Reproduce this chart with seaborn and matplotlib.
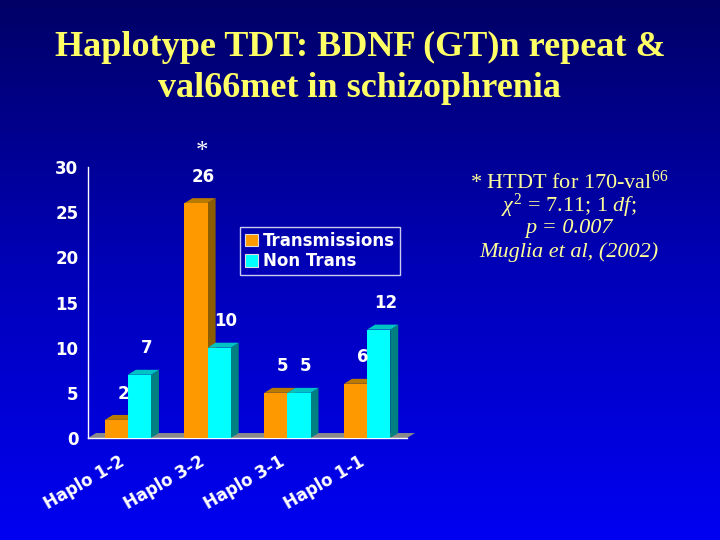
import numpy as np
import pandas as pd
import matplotlib
matplotlib.use("Agg")
import matplotlib.pyplot as plt
import matplotlib.transforms as mtransforms
import seaborn as sns
from matplotlib.patches import Polygon, Patch
from matplotlib.colors import LinearSegmentedColormap

# 데이터
haplos = ["Haplo 1-2", "Haplo 3-2", "Haplo 3-1", "Haplo 1-1"]
trans = [2, 26, 5, 6]
non_trans = [7, 10, 5, 12]
series = ["Transmissions", "Non Trans"]

df = pd.DataFrame({
    "haplo": haplos * 2,
    "count": trans + non_trans,
    "type": [series[0]] * len(haplos) + [series[1]] * len(haplos),
})

front = {"Transmissions": "#ff9900", "Non Trans": "#00ffff"}
side = {"Transmissions": "#8c5c00", "Non Trans": "#008080"}
top = {"Transmissions": "#b87a00", "Non Trans": "#00c4c4"}

sns.set_theme(style="white")
plt.rcParams["font.family"] = ["DejaVu Sans"]
plt.rcParams["mathtext.fontset"] = "custom"
plt.rcParams["mathtext.rm"] = "Liberation Serif"
plt.rcParams["mathtext.it"] = "Liberation Serif:italic"
plt.rcParams["mathtext.bf"] = "Liberation Serif:bold"

fig = plt.figure(figsize=(7.2, 5.4), dpi=100)

# 배경 그라데이션
bg = fig.add_axes([0, 0, 1, 1], zorder=-10)
grad = np.linspace(0, 1, 256).reshape(-1, 1)
cmap = LinearSegmentedColormap.from_list("bg", ["#000066", "#0000b8", "#0000f2"])
bg.imshow(grad, aspect="auto", cmap=cmap, extent=[0, 1, 0, 1])
bg.axis("off")

ax = fig.add_axes([88 / 720, 1 - 438 / 540, 319 / 720, 271 / 540])
ax.patch.set_alpha(0)

sns.barplot(data=df, x="haplo", y="count", hue="type", palette=front,
            width=0.58, saturation=1, linewidth=0, legend=False, ax=ax, zorder=3)

ax.set_xlim(-0.5, 3.5)
ax.set_ylim(0, 30)

# 3D 효과 (옆면, 윗면)
dx, dy = 0.1, 0.55
for cont, name in zip(ax.containers, series):
    for bar in cont:
        x0, w, h = bar.get_x(), bar.get_width(), bar.get_height()
        ax.add_patch(Polygon([(x0 + w, 0), (x0 + w + dx, dy), (x0 + w + dx, h + dy), (x0 + w, h)],
                             closed=True, facecolor=side[name], edgecolor="none", zorder=2))
        ax.add_patch(Polygon([(x0, h), (x0 + dx, h + dy), (x0 + w + dx, h + dy), (x0 + w, h)],
                             closed=True, facecolor=top[name], edgecolor="none", zorder=2))
        ax.annotate(f"{int(h)}", (x0 + w / 2, h), xytext=(5, 19), textcoords="offset points",
                    ha="center", va="center", color="white", fontsize=12, fontweight="bold")

# 바닥
ax.add_patch(Polygon([(-0.5, 0), (3.5, 0), (3.5 + dx, dy), (-0.5 + dx, dy)], closed=True,
                     facecolor="#8a8a8a", edgecolor="none", zorder=1, clip_on=False))

# 별표
b26 = ax.containers[0][1]
ax.annotate("*", (b26.get_x() + b26.get_width() / 2, b26.get_height()), xytext=(4, 37),
            textcoords="offset points", ha="center", va="center", color="white",
            fontsize=18, family="Liberation Serif")

for s in ["top", "right"]:
    ax.spines[s].set_visible(False)
for s in ["left", "bottom"]:
    ax.spines[s].set_color("white")
    ax.spines[s].set_linewidth(1)

ax.set_xlabel("")
ax.set_ylabel("")
ax.set_yticks(range(0, 31, 5))
ax.tick_params(axis="y", length=0, pad=7, colors="white", labelsize=12)
ax.tick_params(axis="x", which="major", length=0, pad=9, colors="white", labelsize=12)
ax.set_xticks(np.arange(-0.5, 4, 1), minor=True)
ax.tick_params(axis="x", which="minor", length=5, width=1, color="white", direction="out")
for lab in ax.get_yticklabels():
    lab.set_fontweight("bold")
shift = mtransforms.ScaledTranslation(-9 / 100, -2 / 100, fig.dpi_scale_trans)
for lab in ax.get_xticklabels():
    lab.set_fontweight("bold")
    lab.set_rotation(30)
    lab.set_ha("right")
    lab.set_rotation_mode("anchor")
    lab.set_va("top")
    lab.set_transform(lab.get_transform() + shift)

handles = [Patch(facecolor=front[n], edgecolor="#dddddd", linewidth=0.8) for n in series]
leg = ax.legend(handles, series, loc="upper left", bbox_to_anchor=(0.476, 0.779),
                frameon=True, fancybox=False, facecolor="none", edgecolor="white",
                prop={"weight": "bold", "size": 12}, labelcolor="white",
                handlelength=0.8, handleheight=0.8, handletextpad=0.3,
                borderpad=0.3, labelspacing=0.15, borderaxespad=0)
leg.get_frame().set_linewidth(1)

# 제목
title_kw = dict(ha="center", va="center", color="#ffff66", fontsize=26,
                fontweight="bold", family="Liberation Serif")
fig.text(0.5, 1 - 47 / 540, "Haplotype TDT: BDNF (GT)n repeat &", **title_kw)
fig.text(0.5, 1 - 89 / 540, "val66met in schizophrenia", **title_kw)

# 주석
note_kw = dict(ha="center", va="center", color="#ffff99", fontsize=16, family="Liberation Serif")
nx = 569 / 720
fig.text(nx, 1 - 182 / 540, "* HTDT for 170-val$^{66}$", **note_kw)
fig.text(nx, 1 - 205.5 / 540, r"$\chi^2$ = 7.11; 1 $\mathit{df}$;", **note_kw)
fig.text(nx, 1 - 229 / 540, "p = 0.007", style="italic", **note_kw)
fig.text(nx, 1 - 252.5 / 540, "Muglia et al, (2002)", style="italic", **note_kw)

fig.savefig("out.png", dpi=100)
